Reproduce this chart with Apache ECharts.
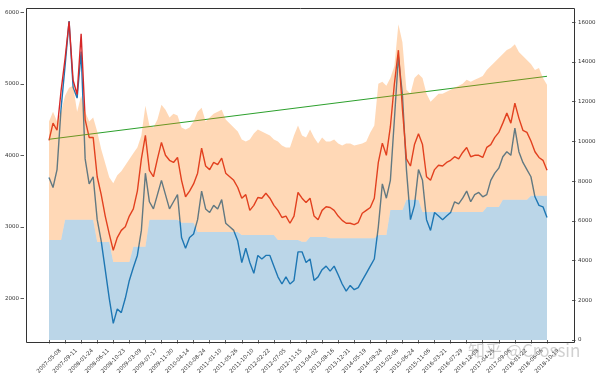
<!DOCTYPE html>
<html>
<head>
<meta charset="utf-8">
<script src="https://cdn.jsdelivr.net/npm/echarts@6/dist/echarts.min.js"></script>
<style>
html,body{margin:0;padding:0;background:#fff;}
#chart{width:600px;height:378px;}
</style>
</head>
<body>
<div id="chart"></div>
<script>
// ---- data ----
const tickLabels = ["2007-05-08","2007-09-11","2008-01-24","2008-06-11","2008-10-23","2009-03-09","2009-07-17","2009-11-30","2010-04-14","2010-08-24","2011-01-10","2011-05-26","2011-10-10","2012-02-22","2012-07-05","2012-11-15","2013-04-02","2013-08-16","2013-12-31","2014-05-19","2014-09-24","2015-02-06","2015-06-24","2015-11-06","2016-03-21","2016-07-29","2016-12-08","2017-04-25","2017-09-06","2018-01-22","2018-06-06","2018-10-19"];

// index line (left axis)
const indexLine = [3690,3550,3800,4650,5250,5877,4950,4800,5450,3950,3600,3700,3100,2800,2400,2000,1650,1850,1800,2000,2250,2430,2600,2950,3750,3350,3250,3450,3650,3450,3250,3350,3450,2850,2700,2850,2900,3100,3500,3250,3200,3300,3250,3380,3050,3000,2950,2800,2500,2700,2500,2350,2600,2550,2600,2600,2450,2300,2200,2300,2200,2250,2650,2650,2500,2550,2250,2300,2400,2450,2380,2450,2330,2200,2100,2180,2120,2150,2250,2350,2450,2550,3000,3600,3400,3650,4500,5380,4850,3800,3100,3300,3800,3650,3100,2950,3200,3150,3100,3150,3200,3350,3320,3400,3500,3350,3450,3480,3420,3450,3650,3750,3820,3980,4050,4000,4380,4050,3900,3800,3700,3420,3300,3280,3130];

// red line (left axis)
const redLine = [4210,4450,4350,4900,5350,5870,5050,4850,5700,4500,4250,4250,3700,3450,3150,2900,2670,2850,2950,3000,3150,3250,3500,3950,4280,3790,3700,3950,4180,4000,3930,3900,3970,3650,3420,3500,3600,3750,4100,3850,3800,3900,3870,3960,3750,3700,3650,3550,3400,3450,3230,3300,3410,3400,3470,3400,3300,3230,3130,3150,3050,3150,3480,3400,3340,3400,3150,3100,3230,3280,3270,3230,3150,3090,3050,3050,3030,3060,3190,3230,3270,3400,3900,4170,4000,4400,5000,5470,4650,3950,3850,4150,4300,4150,3700,3650,3800,3860,3850,3900,3930,3980,3950,4040,4110,3980,4000,4000,3970,4110,4150,4250,4320,4450,4590,4450,4730,4520,4350,4320,4200,4050,3970,3930,3790];

// green trend line (left axis): values at its two ends
const greenStart = 4224;
const greenEnd = 5105;

// total value, top of the orange fill (right axis)
const totalValue = [11000,11500,11000,11500,12300,12700,12800,11500,12300,11500,11000,11200,10500,9600,8900,8200,7900,8300,8500,8800,9100,9400,9700,10300,11800,10800,10700,11100,11850,11600,11200,11400,11300,10700,10600,10700,11000,11500,11700,11000,11200,11400,11500,11600,11100,10900,10700,10500,10100,10000,10100,10400,10600,10500,10400,10300,10100,10000,9800,9700,9700,10300,10800,10300,10200,10600,10200,9900,10200,10000,10000,10100,9900,9800,9900,9900,9800,9850,9900,10000,10450,10800,12900,13000,12800,13200,13800,15900,15000,12600,12400,13200,13400,13200,12400,12000,12200,12400,12400,12500,12600,12700,12800,12900,13100,13000,13100,13200,13300,13600,13800,14000,14200,14400,14600,14700,14900,14500,14300,14100,13900,13600,13700,13200,12850];

// base value, top of the blue fill (right axis)
const baseValue = [5040,5040,5040,5040,6050,6050,6050,6050,6050,6050,6050,6050,4940,4940,4940,4940,3930,3930,3930,3930,3930,4690,4690,4690,4690,6050,6050,6050,6050,6050,6050,6050,6050,5900,5900,5900,5900,5440,5440,5440,5440,5440,5440,5440,5440,5440,5440,5440,5290,5290,5290,5290,5290,5290,5290,5290,5290,5040,5040,5040,5040,5040,5040,4950,4950,5190,5190,5190,5190,5190,5120,5120,5120,5120,5120,5120,5120,5120,5120,5120,5120,5120,5290,5290,5290,6550,6550,6550,6550,7060,7060,7060,7060,6450,6450,6450,6450,6450,6450,6450,6450,6450,6450,6450,6450,6450,6450,6450,6450,6700,6700,6700,6700,7060,7060,7060,7060,7060,7060,7060,7260,7260,7260,7260,7260];

const leftTicks = [2000,3000,4000,5000,6000];
const rightTicks = [0,2000,4000,6000,8000,10000,12000,14000,16000];

// ---- chart ----
const perTick = 4;
const n = indexLine.length;
const cats = indexLine.map((_, i) => String(i));
const orangeBand = totalValue.map((v, i) => v - baseValue[i]);
const greenData = indexLine.map((_, i) => i === 0 ? greenStart : (i === n - 1 ? greenEnd : null));

const font = 'DejaVu Sans';
const tickStyle = {show: true, length: 3.5, lineStyle: {color: '#333', width: 0.8}};
const chart = echarts.init(document.getElementById('chart'), null, {renderer: 'canvas'});
chart.setOption({
  animation: false,
  backgroundColor: '#fff',
  grid: {left: 49, right: 53, top: 6, bottom: 38},
  xAxis: {
    type: 'category', data: cats, boundaryGap: false,
    axisLine: {show: false},
    splitLine: {show: false},
    axisTick: Object.assign({interval: perTick - 1, alignWithLabel: true}, tickStyle),
    axisLabel: {
      interval: perTick - 1,
      formatter: (v, i) => tickLabels[Math.round(i / perTick)],
      rotate: 45, align: 'center', verticalAlign: 'middle', margin: 21,
      fontFamily: font, fontSize: 5.5, color: '#333'
    }
  },
  yAxis: [{
    type: 'value', min: 1417, max: 6088, position: 'left', offset: 25,
    axisLine: {show: false}, splitLine: {show: false},
    axisTick: Object.assign({customValues: leftTicks}, tickStyle),
    axisLabel: {customValues: leftTicks, formatter: v => String(v), margin: 5, fontFamily: font, fontSize: 5.5, color: '#333'}
  }, {
    type: 'value', min: 0, max: 16820, position: 'right', offset: 25,
    axisLine: {show: false}, splitLine: {show: false},
    axisTick: Object.assign({customValues: rightTicks}, tickStyle),
    axisLabel: {customValues: rightTicks, formatter: v => String(v), margin: 6, fontFamily: font, fontSize: 5.5, color: '#333'}
  }],
  series: [
    {type: 'line', yAxisIndex: 0, data: indexLine, symbol: 'none', z: 2,
     lineStyle: {color: '#1f77b4', width: 1.4}},
    {type: 'line', yAxisIndex: 0, data: redLine, symbol: 'none', z: 2,
     lineStyle: {color: '#d62728', width: 1.4}},
    {type: 'line', yAxisIndex: 0, data: greenData, connectNulls: true, symbol: 'none', z: 2,
     lineStyle: {color: '#2ca02c', width: 1}},
    {type: 'line', yAxisIndex: 1, data: baseValue, stack: 'fill', symbol: 'none', z: 3,
     lineStyle: {opacity: 0}, areaStyle: {color: '#1f77b4', opacity: 0.3}},
    {type: 'line', yAxisIndex: 1, data: orangeBand, stack: 'fill', symbol: 'none', z: 3,
     lineStyle: {opacity: 0}, areaStyle: {color: '#ff7f0e', opacity: 0.3}}
  ],
  graphic: [{
    type: 'rect', left: 24, top: 6, z: 50, silent: true,
    shape: {width: 548, height: 334},
    style: {fill: 'none', stroke: '#333', lineWidth: 1}
  }, {
    type: 'text', left: 468, top: 342, z: 100,
    style: {text: '知乎 @Crossin', font: '17px "Noto Sans CJK SC", "Noto Sans"', fill: 'rgba(150,150,150,0.45)'}
  }]
});
</script>
</body>
</html>
